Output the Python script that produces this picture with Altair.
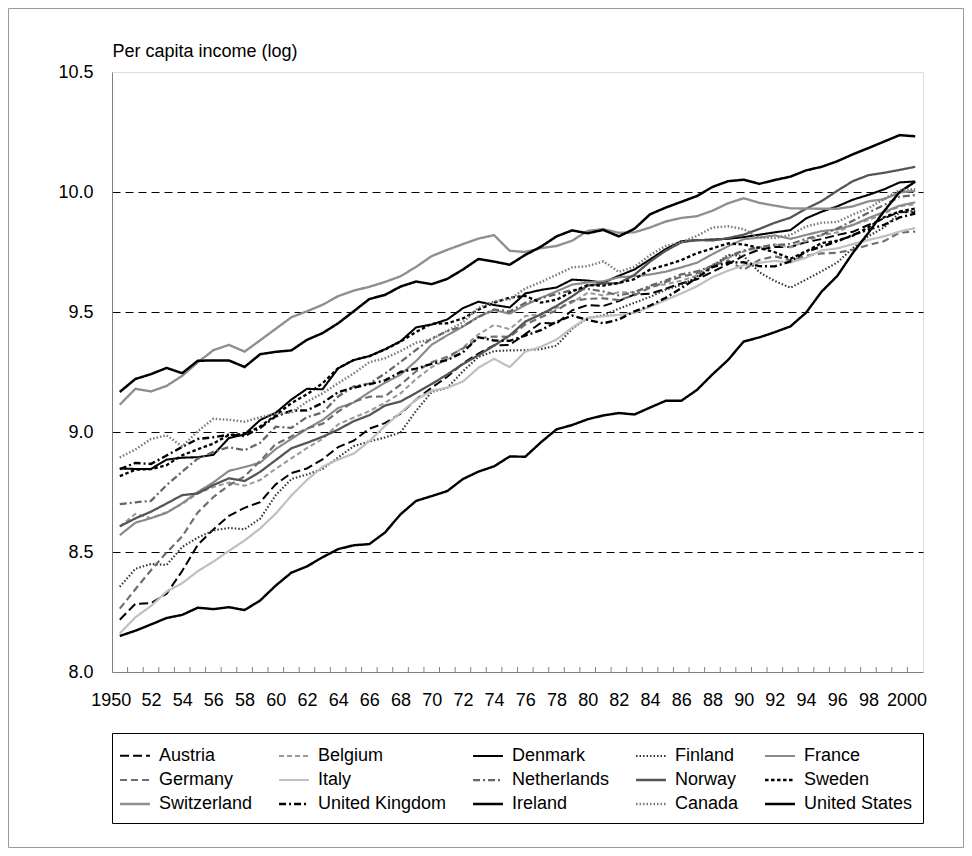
import altair as alt
import pandas as pd

years = list(range(1950, 2002))
countries = ["Austria", "Belgium", "Denmark", "Finland", "France",
             "Germany", "Italy", "Netherlands", "Norway", "Sweden",
             "Switzerland", "United Kingdom", "Ireland", "Canada", "United States"]

austria = [8.218, 8.284, 8.287, 8.326, 8.421, 8.530, 8.594, 8.651, 8.684, 8.708,
           8.782, 8.829, 8.848, 8.886, 8.937, 8.964, 9.014, 9.037, 9.076, 9.135,
           9.185, 9.230, 9.286, 9.327, 9.361, 9.363, 9.408, 9.455, 9.451, 9.507,
           9.529, 9.525, 9.546, 9.573, 9.576, 9.597, 9.619, 9.636, 9.667, 9.699,
           9.735, 9.760, 9.771, 9.771, 9.791, 9.804, 9.821, 9.834, 9.863, 9.890,
           9.917, 9.915]
belgium = [8.606, 8.659, 8.641, 8.666, 8.700, 8.745, 8.771, 8.789, 8.776, 8.800,
           8.847, 8.890, 8.933, 8.971, 9.032, 9.060, 9.087, 9.122, 9.161, 9.221,
           9.270, 9.304, 9.352, 9.407, 9.446, 9.429, 9.483, 9.491, 9.517, 9.539,
           9.580, 9.569, 9.582, 9.583, 9.605, 9.616, 9.630, 9.652, 9.697, 9.725,
           9.752, 9.769, 9.782, 9.769, 9.796, 9.820, 9.831, 9.865, 9.883, 9.910,
           9.940, 9.949]
denmark = [8.848, 8.846, 8.846, 8.885, 8.893, 8.895, 8.905, 8.975, 8.990, 9.050,
           9.080, 9.135, 9.180, 9.178, 9.265, 9.300, 9.316, 9.345, 9.378, 9.436,
           9.448, 9.469, 9.516, 9.543, 9.529, 9.519, 9.577, 9.592, 9.602, 9.635,
           9.631, 9.622, 9.651, 9.677, 9.719, 9.762, 9.795, 9.799, 9.802, 9.805,
           9.812, 9.822, 9.832, 9.841, 9.890, 9.918, 9.940, 9.968, 9.988, 10.011,
           10.040, 10.044]
finland = [8.355, 8.430, 8.450, 8.446, 8.521, 8.560, 8.590, 8.600, 8.595, 8.639,
           8.737, 8.804, 8.823, 8.846, 8.894, 8.941, 8.961, 8.977, 8.998, 9.088,
           9.167, 9.184, 9.253, 9.313, 9.337, 9.340, 9.341, 9.345, 9.360, 9.430,
           9.475, 9.486, 9.514, 9.538, 9.563, 9.593, 9.612, 9.647, 9.690, 9.738,
           9.733, 9.666, 9.629, 9.601, 9.635, 9.670, 9.706, 9.766, 9.816, 9.852,
           9.915, 9.921]
france = [8.570, 8.622, 8.641, 8.663, 8.703, 8.750, 8.790, 8.838, 8.854, 8.872,
          8.929, 8.971, 9.013, 9.050, 9.100, 9.123, 9.166, 9.205, 9.239, 9.296,
          9.364, 9.403, 9.439, 9.481, 9.508, 9.493, 9.529, 9.559, 9.586, 9.614,
          9.623, 9.628, 9.645, 9.649, 9.656, 9.668, 9.686, 9.705, 9.741, 9.774,
          9.803, 9.810, 9.819, 9.805, 9.821, 9.837, 9.844, 9.862, 9.891, 9.917,
          9.943, 9.957]
germany = [8.264, 8.345, 8.424, 8.498, 8.565, 8.665, 8.729, 8.778, 8.815, 8.879,
           8.950, 8.981, 9.015, 9.034, 9.085, 9.126, 9.147, 9.148, 9.197, 9.253,
           9.291, 9.313, 9.348, 9.390, 9.398, 9.396, 9.448, 9.478, 9.507, 9.546,
           9.555, 9.557, 9.550, 9.570, 9.601, 9.625, 9.647, 9.661, 9.693, 9.715,
           9.676, 9.717, 9.732, 9.715, 9.734, 9.744, 9.747, 9.760, 9.779, 9.795,
           9.831, 9.835]
italy = [8.161, 8.228, 8.275, 8.335, 8.370, 8.420, 8.460, 8.505, 8.548, 8.598,
         8.660, 8.735, 8.800, 8.855, 8.885, 8.910, 8.962, 9.025, 9.080, 9.135,
         9.172, 9.185, 9.210, 9.268, 9.305, 9.270, 9.335, 9.355, 9.385, 9.435,
         9.476, 9.482, 9.488, 9.496, 9.522, 9.550, 9.577, 9.607, 9.645, 9.672,
         9.695, 9.705, 9.713, 9.706, 9.726, 9.757, 9.765, 9.783, 9.800, 9.815,
         9.835, 9.850]
netherlands = [8.699, 8.707, 8.713, 8.779, 8.835, 8.889, 8.917, 8.937, 8.924, 8.955,
               9.022, 9.017, 9.062, 9.081, 9.148, 9.190, 9.202, 9.243, 9.292, 9.342,
               9.390, 9.420, 9.441, 9.479, 9.511, 9.502, 9.538, 9.557, 9.575, 9.591,
               9.596, 9.586, 9.569, 9.583, 9.609, 9.631, 9.657, 9.669, 9.692, 9.731,
               9.756, 9.770, 9.779, 9.783, 9.805, 9.822, 9.848, 9.880, 9.914, 9.946,
               9.980, 9.987]
norway = [8.607, 8.640, 8.668, 8.702, 8.737, 8.744, 8.779, 8.807, 8.796, 8.834,
          8.883, 8.932, 8.955, 8.980, 9.010, 9.045, 9.070, 9.110, 9.127, 9.163,
          9.200, 9.240, 9.283, 9.320, 9.360, 9.402, 9.460, 9.490, 9.525, 9.565,
          9.610, 9.619, 9.620, 9.655, 9.710, 9.755, 9.790, 9.800, 9.798, 9.808,
          9.822, 9.846, 9.872, 9.893, 9.930, 9.962, 10.005, 10.045, 10.070, 10.080,
          10.092, 10.105]
sweden = [8.816, 8.843, 8.845, 8.862, 8.903, 8.928, 8.952, 8.988, 8.991, 9.023,
          9.070, 9.120, 9.157, 9.203, 9.266, 9.300, 9.316, 9.343, 9.377, 9.417,
          9.451, 9.453, 9.473, 9.510, 9.539, 9.560, 9.567, 9.539, 9.551, 9.585,
          9.612, 9.610, 9.621, 9.637, 9.677, 9.695, 9.716, 9.745, 9.765, 9.786,
          9.781, 9.767, 9.749, 9.722, 9.753, 9.787, 9.797, 9.818, 9.853, 9.895,
          9.919, 9.931]
switzerland = [9.114, 9.180, 9.169, 9.192, 9.234, 9.290, 9.341, 9.363, 9.335, 9.382,
               9.430, 9.478, 9.503, 9.530, 9.566, 9.589, 9.605, 9.625, 9.649, 9.688,
               9.733, 9.759, 9.783, 9.806, 9.820, 9.755, 9.750, 9.766, 9.775, 9.797,
               9.838, 9.845, 9.830, 9.832, 9.852, 9.877, 9.892, 9.899, 9.922, 9.953,
               9.974, 9.955, 9.943, 9.932, 9.931, 9.930, 9.930, 9.940, 9.961, 9.970,
               9.998, 10.005]
united_kingdom = [8.845, 8.871, 8.867, 8.902, 8.938, 8.971, 8.978, 8.989, 8.983, 9.017,
                  9.065, 9.089, 9.090, 9.121, 9.166, 9.185, 9.199, 9.215, 9.250, 9.264,
                  9.284, 9.300, 9.332, 9.395, 9.381, 9.380, 9.402, 9.424, 9.459, 9.485,
                  9.467, 9.453, 9.469, 9.503, 9.527, 9.559, 9.599, 9.642, 9.687, 9.706,
                  9.707, 9.691, 9.690, 9.711, 9.751, 9.773, 9.794, 9.821, 9.843, 9.863,
                  9.894, 9.910]
ireland = [8.150, 8.172, 8.198, 8.225, 8.238, 8.268, 8.262, 8.270, 8.258, 8.298,
           8.360, 8.414, 8.440, 8.478, 8.512, 8.528, 8.533, 8.581, 8.657, 8.713,
           8.733, 8.754, 8.804, 8.835, 8.857, 8.898, 8.897, 8.957, 9.011, 9.029,
           9.053, 9.069, 9.079, 9.073, 9.102, 9.130, 9.130, 9.175, 9.240, 9.300,
           9.377, 9.394, 9.416, 9.440, 9.497, 9.585, 9.650, 9.746, 9.830, 9.920,
           10.000, 10.043]
canada = [8.894, 8.927, 8.971, 8.986, 8.940, 9.003, 9.055, 9.051, 9.043, 9.061,
          9.077, 9.081, 9.126, 9.161, 9.203, 9.244, 9.291, 9.307, 9.337, 9.372,
          9.386, 9.422, 9.457, 9.517, 9.544, 9.553, 9.598, 9.625, 9.655, 9.686,
          9.691, 9.711, 9.667, 9.688, 9.737, 9.775, 9.791, 9.817, 9.852, 9.857,
          9.845, 9.810, 9.808, 9.821, 9.856, 9.872, 9.875, 9.906, 9.932, 9.971,
          10.008, 10.012]
united_states = [9.167, 9.221, 9.241, 9.267, 9.245, 9.297, 9.298, 9.298, 9.271, 9.324,
                 9.334, 9.340, 9.384, 9.412, 9.453, 9.503, 9.554, 9.571, 9.606, 9.627,
                 9.616, 9.638, 9.677, 9.721, 9.710, 9.697, 9.738, 9.772, 9.815, 9.840,
                 9.828, 9.842, 9.815, 9.847, 9.907, 9.935, 9.959, 9.983, 10.021, 10.045,
                 10.051, 10.034, 10.050, 10.064, 10.090, 10.105, 10.128, 10.157, 10.183, 10.210,
                 10.237, 10.232]

series = [austria, belgium, denmark, finland, france, germany, italy, netherlands,
          norway, sweden, switzerland, united_kingdom, ireland, canada, united_states]

y_ticks = [8.0, 8.5, 9.0, 9.5, 10.0, 10.5]
y_title = "Per capita income (log)"

rows = []
for name, vals in zip(countries, series):
    for yr, v in zip(years, vals):
        rows.append({"Year": yr, "Country": name, "Value": v})
df = pd.DataFrame(rows)

tick_df = pd.DataFrame({"Year": [y + 0.5 for y in years[:-1]]})
label_years = years[:-1:2]

colors = ["#000000", "#9a9a9a", "#000000", "#333333", "#8a8a8a",
          "#6e6e6e", "#c0c0c0", "#666666", "#555555", "#000000",
          "#8f8f8f", "#000000", "#000000", "#7a7a7a", "#000000"]
dashes = [[9, 4], [5, 3], [1, 0], [1.5, 2], [1, 0],
          [7, 4], [1, 0], [7, 3, 2, 3], [1, 0], [3.5, 2.5],
          [1, 0], [7, 3, 2, 3], [1, 0], [1.5, 2], [1, 0]]
widths = [2, 2.5, 1.6, 1.3, 3, 1.3, 3, 1.5, 2, 1.3, 2, 2, 1, 1.3, 3.5]

FONT = "Liberation Sans"
W, H = 811, 600

x_scale = alt.Scale(domain=[1949.5, 2001.5], nice=False, zero=False)
y_scale = alt.Scale(domain=[8.0, 10.5], nice=False, zero=False)

x_axis = alt.Axis(
    values=label_years, title=None, grid=False, ticks=False, tickSize=0,
    labelExpr="(datum.value == 1950 || datum.value == 2000) ? toString(datum.value) : slice(toString(datum.value), 2)",
    labelFont=FONT, labelFontSize=18, labelColor="black",
    labelPadding=19, labelOverlap=False, labelFlush=False, labelBound=False,
    labelOffset={"condition": [{"test": "datum.value == 1950", "value": -9},
                               {"test": "datum.value == 2000", "value": 7}],
                 "value": 0},
    domainColor="#808080", domainWidth=1,
)

legend = alt.Legend(
    orient="none", legendX=0, legendY=661, columns=5, direction="horizontal",
    title=None, symbolType="M-1.3,0H1.3", symbolSize=529,
    labelFont=FONT, labelFontSize=18, labelColor="black", labelLimit=300,
    labelOffset=11, padding=10, rowPadding=2, columnPadding=21,
    strokeColor="black", gridAlign="each",
)

lines = alt.Chart(df).mark_line().encode(
    x=alt.X("Year:Q", scale=x_scale, axis=x_axis),
    y=alt.Y("Value:Q", scale=y_scale,
            axis=alt.Axis(
                values=y_ticks, format=".1f", ticks=False, tickSize=0,
                title=y_title, titleAngle=0, titleX=0, titleY=-16,
                titleAlign="left", titleBaseline="alphabetic",
                titleFont=FONT, titleFontSize=18, titleFontWeight="normal", titleColor="black",
                labelFont=FONT, labelFontSize=18, labelColor="black", labelPadding=19,
                domainColor="#808080", domainWidth=1,
                grid=True, gridColor="black", gridDash=[8, 5], gridWidth=1,
                gridOpacity={"condition": {"test": "datum.value == 8 || datum.value == 10.5", "value": 0},
                             "value": 1})),
    color=alt.Color("Country:N", scale=alt.Scale(domain=countries, range=colors), legend=legend),
    strokeDash=alt.StrokeDash("Country:N", scale=alt.Scale(domain=countries, range=dashes), legend=legend),
    strokeWidth=alt.StrokeWidth("Country:N", scale=alt.Scale(domain=countries, range=widths), legend=legend),
    order=alt.Order("Year:Q"),
)

ticks = alt.Chart(tick_df).mark_rule(color="#808080", strokeWidth=1).encode(
    x=alt.X("Year:Q", scale=x_scale, axis=x_axis),
    y=alt.value(H - 5),
    y2=alt.value(H),
)

frame = alt.Chart(pd.DataFrame({"k": [0]})).mark_rect(
    fillOpacity=0, stroke="#999999", strokeWidth=1
).encode(
    x=alt.value(-103.5), x2=alt.value(W + 40.5),
    y=alt.value(-63.5), y2=alt.value(H + 175.5),
)

chart = alt.layer(lines, ticks, frame).properties(
    width=W, height=H,
    autosize=alt.AutoSizeParams(type="none"),
    padding={"left": 104, "top": 64, "right": 41, "bottom": 176},
).configure_view(stroke="black", strokeWidth=1).configure(font=FONT).configure_axisX(
    labelOverlap=False
)

chart.save("out.html", embed_options={"renderer": "svg", "actions": False})
